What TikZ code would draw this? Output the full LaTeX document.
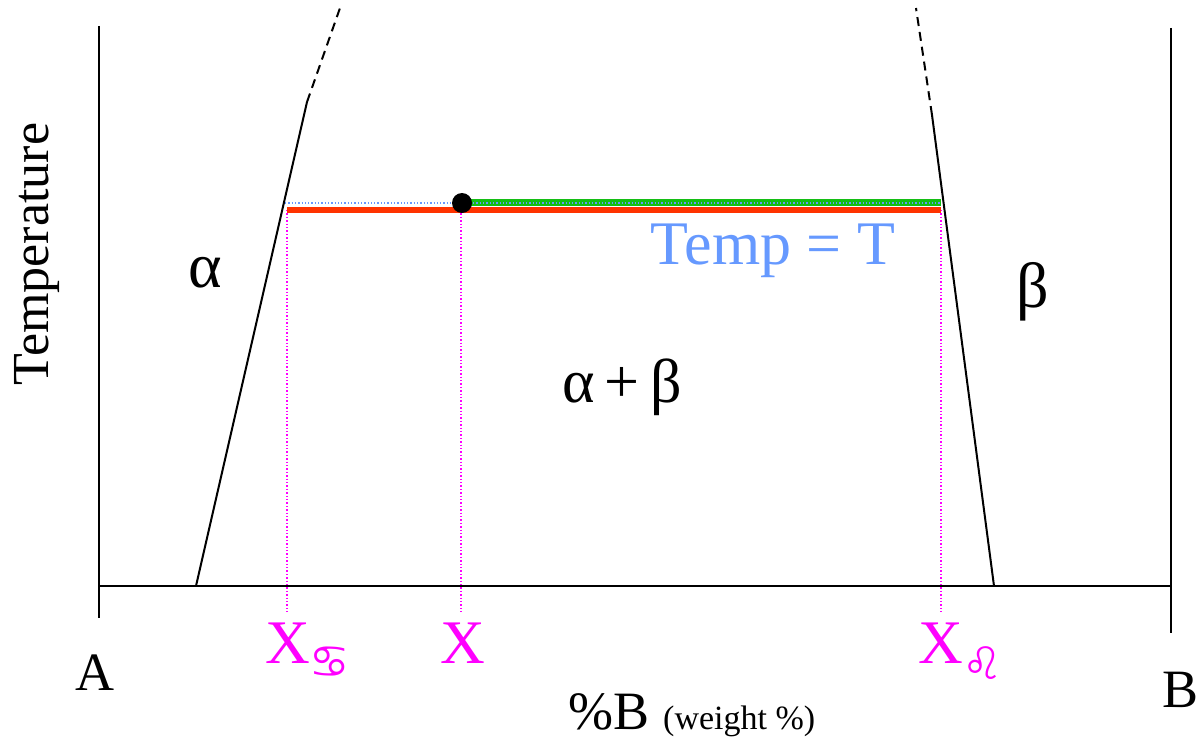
\documentclass[tikz,border=0pt]{standalone}
\usepackage{fontspec}
\setmainfont{Liberation Serif}
\newfontfamily\tnr{Liberation Serif}[Scale=1.0001]
\newfontfamily\symf{DejaVu Sans}
\begin{document}
\begin{tikzpicture}[x=1pt,y=-1pt,
  axisline/.style={black,line width=2pt},
  solvus/.style={black,line width=2pt},
  solvusext/.style={black,line width=2pt,dash pattern=on 9pt off 6pt},
  dropline/.style={pink1,line width=1.4pt,dotted},
  lbl/.style={inner sep=0pt,anchor=base},
  mlbl/.style={lbl,text=pink1,font=\tnr\fontsize{62}{62}\selectfont}
]
\useasboundingbox (0,0) rectangle (1196,752);
\definecolor{tieblue}{RGB}{102,153,255}
\definecolor{tiegreen}{RGB}{20,190,20}
\definecolor{tiered}{RGB}{255,51,0}
\definecolor{pink1}{RGB}{255,0,255}
% frame coordinates
\coordinate (Ltop) at (99,26);
\coordinate (Lbot) at (99,618);
\coordinate (Rtop) at (1171,28);
\coordinate (Rbot) at (1171,633);
\coordinate (axL) at (99,586);
\coordinate (axR) at (1171,586);
% solvus
\coordinate (a0) at (196,586);
\coordinate (a1) at (307,102);
\coordinate (a2) at (340,8);
\coordinate (b0) at (994,586);
\coordinate (b1) at (932,115);
\coordinate (b2) at (916,8);
% tie line
\coordinate (tA) at (285,203);
\coordinate (tB) at (941,203);
\coordinate (rA) at (287,210);
\coordinate (rB) at (941,210);
\coordinate (gA) at (462,202);
\coordinate (dA) at (287,612);
\coordinate (dX) at (461,612);
\coordinate (dB) at (941,612);
\coordinate (uA) at (287,210);
\coordinate (uX) at (461,210);
\coordinate (uB) at (941,210);

\draw[axisline] (Ltop) -- (Lbot);
\draw[axisline] (Rtop) -- (Rbot);
\draw[axisline] (axL) -- (axR);
\draw[solvus] (a0) -- (a1);
\draw[solvusext] (a1) -- (a2);
\draw[solvus] (b0) -- (b1);
\draw[solvusext] (b1) -- (b2);

\draw[dropline] (uA) -- (dA);
\draw[dropline] (uX) -- (dX);
\draw[dropline] (uB) -- (dB);

\draw[tiegreen,line width=7pt] (gA) -- (tB |- gA);
\draw[tiered,line width=6pt] (rA) -- (rB);
\draw[tieblue,line width=1.3pt,dotted] (tA) -- (tB);
\node[circle,fill=black,minimum size=20pt,inner sep=0pt] (dot) at (462,203) {};

% labels
\node[lbl,font=\tnr\fontsize{52}{52}\selectfont,rotate=90] (temp) at (48,254) {Temperature};
\node[lbl,font=\tnr\fontsize{64}{64}\selectfont] (alpha) at (205,287) {α};
\node[lbl,font=\tnr\fontsize{64}{64}\selectfont] (beta) at (1033,307) {β};
\node[lbl,font=\tnr\fontsize{62}{62}\selectfont] (ab) at (622,402) {α\,+\,β};
\node[lbl,text=tieblue,font=\tnr\fontsize{62}{62}\selectfont] (tt) at (773,264) {Temp = T};
\node[mlbl,anchor=base west] (xa) at (265,663) {X\raisebox{-14pt}{\fontsize{45}{45}\symf ♋}};
\node[mlbl] (xx) at (463,663) {X};
\node[mlbl,anchor=base west] (xb) at (918,663) {X\raisebox{-16pt}{\fontsize{45}{45}\symf ♌}};
\node[lbl,font=\tnr\fontsize{54}{54}\selectfont] (A) at (95,690) {A};
\node[lbl,font=\tnr\fontsize{54}{54}\selectfont] (B) at (1180,707) {B};
\node[lbl,anchor=base west,font=\tnr\fontsize{54}{54}\selectfont] (xl) at (568,729) {\%B\hspace{14pt}\fontsize{34}{34}\selectfont(weight \%)};
\end{tikzpicture}
\end{document}
